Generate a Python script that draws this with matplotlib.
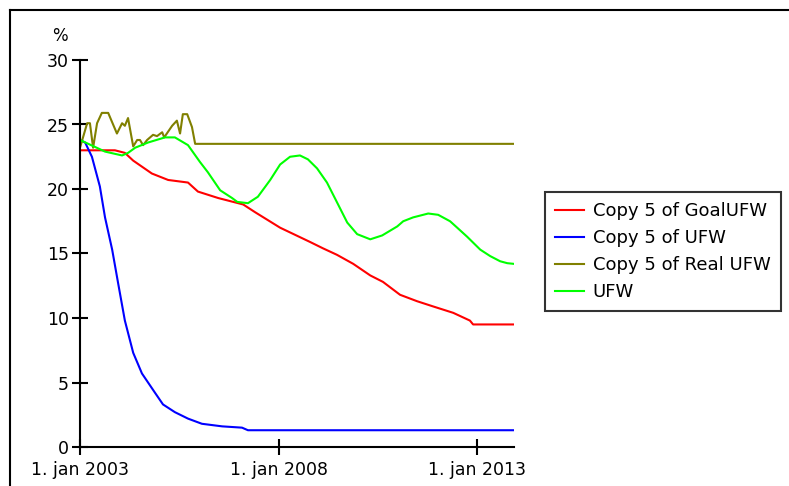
import numpy as np
import matplotlib
matplotlib.use("Agg")
import matplotlib.pyplot as plt
from matplotlib.lines import Line2D

# time in years, values in %
goal_t = [2003.0, 2003.88, 2004.13, 2004.34, 2004.81, 2005.22, 2005.72, 2005.97, 2006.48,
          2007.11, 2007.41, 2008.04, 2008.79, 2009.12, 2009.47, 2009.88, 2010.31, 2010.63,
          2011.06, 2011.49, 2011.89, 2012.40, 2012.82, 2012.90, 2013.917]
goal_v = [23.0, 23.0, 22.8, 22.2, 21.2, 20.7, 20.5, 19.8, 19.3,
          18.8, 18.2, 17.0, 15.9, 15.4, 14.9, 14.2, 13.3, 12.8,
          11.8, 11.3, 10.9, 10.4, 9.8, 9.5, 9.5]

copy_t = [2003.0, 2003.13, 2003.30, 2003.50, 2003.63, 2003.81, 2003.96, 2004.13, 2004.34,
          2004.56, 2004.89, 2005.09, 2005.39, 2005.72, 2006.07, 2006.58, 2007.08, 2007.23, 2013.917]
copy_v = [23.8, 23.6, 22.5, 20.2, 17.8, 15.3, 12.7, 9.8, 7.3,
          5.7, 4.2, 3.3, 2.7, 2.2, 1.8, 1.6, 1.5, 1.3, 1.3]

real_t = [2003.0, 2003.18, 2003.25, 2003.33, 2003.43, 2003.55, 2003.71, 2003.93, 2004.06,
          2004.13, 2004.21, 2004.34, 2004.44, 2004.51, 2004.59, 2004.69, 2004.84, 2004.94,
          2005.07, 2005.12, 2005.32, 2005.44, 2005.52, 2005.59, 2005.70, 2005.82, 2005.90, 2013.917]
real_v = [23.2, 25.1, 25.1, 23.2, 25.1, 25.9, 25.9, 24.3, 25.1,
          24.9, 25.5, 23.3, 23.8, 23.8, 23.4, 23.8, 24.2, 24.1,
          24.4, 24.0, 24.9, 25.3, 24.3, 25.8, 25.8, 24.8, 23.5, 23.5]

ufw_t = [2003.0, 2003.63, 2004.06, 2004.21, 2004.39, 2004.71, 2005.14, 2005.39, 2005.72,
         2006.02, 2006.22, 2006.53, 2006.83, 2006.96, 2007.23, 2007.48, 2007.79, 2008.04,
         2008.29, 2008.54, 2008.74, 2008.97, 2009.22, 2009.50, 2009.73, 2009.98, 2010.31,
         2010.61, 2010.99, 2011.14, 2011.39, 2011.77, 2012.02, 2012.32, 2012.50, 2012.75,
         2013.08, 2013.33, 2013.58, 2013.76, 2013.917]
ufw_v = [23.8, 22.9, 22.6, 22.8, 23.2, 23.6, 24.0, 24.0, 23.4,
         22.1, 21.3, 19.9, 19.3, 19.0, 18.9, 19.4, 20.7, 21.9,
         22.5, 22.6, 22.3, 21.6, 20.5, 18.8, 17.4, 16.5, 16.1,
         16.4, 17.1, 17.5, 17.8, 18.1, 18.0, 17.5, 17.0, 16.3,
         15.3, 14.8, 14.4, 14.25, 14.2]

tick_pos = [2003, 2008, 2013]
tick_labels = ["1. jan 2003", "1. jan 2008", "1. jan 2013"]

W, H = 789, 486
fig = plt.figure(figsize=(W / 100, H / 100), dpi=100)
ax = fig.add_axes([80 / W, (H - 447) / H, 434 / W, 387 / H])

ax.plot(goal_t, goal_v, color="#ff0000", lw=1.5, label="Copy 5 of GoalUFW")
ax.plot(copy_t, copy_v, color="#0000ff", lw=1.5, label="Copy 5 of UFW")
ax.plot(real_t, real_v, color="#808000", lw=1.5, label="Copy 5 of Real UFW")
ax.plot(ufw_t, ufw_v, color="#00ff00", lw=1.5, label="UFW")

ax.set_xlim(2003, 2013.93)
ax.set_ylim(0, 30)
ax.set_yticks(np.arange(0, 31, 5))
ax.set_xticks(tick_pos)
ax.set_xticklabels(tick_labels)
for s in ["top", "right"]:
    ax.spines[s].set_visible(False)
for s in ["left", "bottom"]:
    ax.spines[s].set_linewidth(1.5)
ax.tick_params(direction="inout", length=12, width=1.5, labelsize=12.5, pad=2)
ax.tick_params(axis="x", pad=4)

fig.text(52 / W, 1 - 36 / H, "%", fontsize=12, va="center", ha="left")

leg = fig.legend(loc="upper left", bbox_to_anchor=(545 / W, 1 - 192 / H),
                 borderaxespad=0, fontsize=13, frameon=True, fancybox=False,
                 handlelength=1.6, borderpad=0.55, labelspacing=0.5, handletextpad=0.5)
leg.get_frame().set_edgecolor("black")
leg.get_frame().set_linewidth(1.5)
for h in leg.get_lines():
    h.set_linewidth(1.5)

# page border (top and left edges)
fig.add_artist(Line2D([10 / W, 1.0], [1 - 10 / H, 1 - 10 / H], color="black", lw=1.5))
fig.add_artist(Line2D([10 / W, 10 / W], [0.0, 1 - 10 / H], color="black", lw=1.5))

plt.savefig("out.png", dpi=100)
